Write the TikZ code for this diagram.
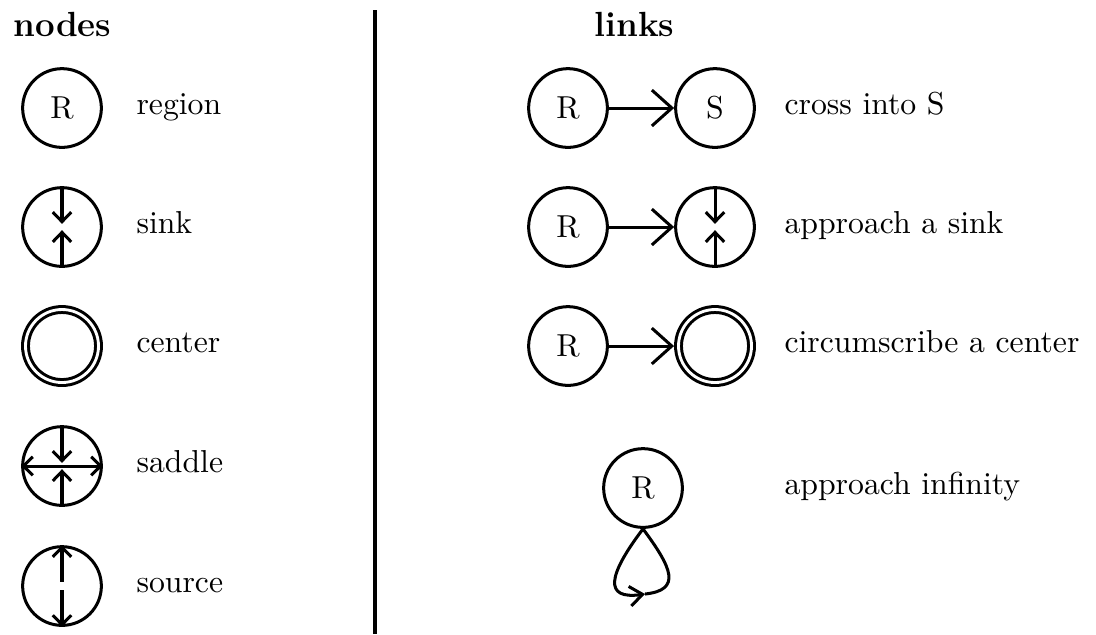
\documentclass[tikz,border=0pt]{standalone}
\usetikzlibrary{arrows.meta}

\begin{document}
\begin{tikzpicture}[x=0.315pt, y=-0.315pt, line width=0.95pt,
    state/.style={circle, draw, minimum size=24.8pt, inner sep=0pt},
    centre/.style={circle, draw, double, double distance=0.9pt, minimum size=23pt, inner sep=0pt, outer sep=1.4pt},
    label/.style={anchor=mid west, inner sep=0pt},
    header/.style={anchor=base west, inner sep=0pt, font=\fontsize{11}{13}\selectfont\bfseries},
    flow/.style={-{Straight Barb[length=3pt, width=5.8pt]}},
    link/.style={-{Straight Barb[length=6.3pt, width=11.3pt]}},
    loopflow/.style={-{Straight Barb[length=4pt, width=6.2pt]}}]
    \useasboundingbox (0,0) rectangle (1096,634);

    % nodes
    \node[header] (hnodes) at (12,36) {nodes};

    \node[state] (reg) at (62,108) {R};
    \node[label] (lreg) at (135,108) {region};

    \node[state] (snk) at (62,227) {};
    \draw[flow] (snk.north) -- ([yshift=1pt]snk.center);
    \draw[flow] (snk.south) -- ([yshift=-1pt]snk.center);
    \node[label] (lsnk) at (135,227) {sink};

    \node[centre] (ctr) at (62,346) {};
    \node[label] (lctr) at (135,346) {center};

    \node[state] (sad) at (62,466) {};
    \draw[flow] (sad.north) -- ([yshift=1pt]sad.center);
    \draw[flow] (sad.south) -- ([yshift=-1pt]sad.center);
    \draw[flow] (sad.center) -- (sad.west);
    \draw[flow] (sad.center) -- (sad.east);
    \node[label] (lsad) at (135,466) {saddle};

    \node[state] (src) at (62,586) {};
    \draw[flow] ([yshift=1.4pt]src.center) -- (src.north);
    \draw[flow] ([yshift=-1.4pt]src.center) -- (src.south);
    \node[label] (lsrc) at (135,586) {source};

    \draw[line width=1.4pt] (375,10) -- (375,634);

    % links
    \node[header] (hlinks) at (593,36) {links};

    \node[state] (ra) at (568,108) {R};
    \node[state] (sa) at (715,108) {S};
    \draw[link] (ra) -- (sa);
    \node[label] (lcross) at (783,108) {cross into S};

    \node[state] (rb) at (568,227) {R};
    \node[state] (sb) at (715,227) {};
    \draw[flow] (sb.north) -- ([yshift=1pt]sb.center);
    \draw[flow] (sb.south) -- ([yshift=-1pt]sb.center);
    \draw[link] (rb) -- (sb);
    \node[label] (lappr) at (783,227) {approach a sink};

    \node[state] (rc) at (568,346) {R};
    \node[centre] (cc) at (715,346) {};
    \draw[link] (rc) -- (cc);
    \node[label] (lcirc) at (783,346) {circumscribe a center};

    \node[state] (inf) at (643,488) {R};
    \coordinate (turn) at (645,594);
    \draw[loopflow] (inf.south) .. controls (608,575) and (603,600) .. (turn);
    \draw (turn) .. controls (682,590) and (672,568) .. (inf.south);
    \node[label] (linf) at (783,488) {approach infinity};
\end{tikzpicture}
\end{document}
